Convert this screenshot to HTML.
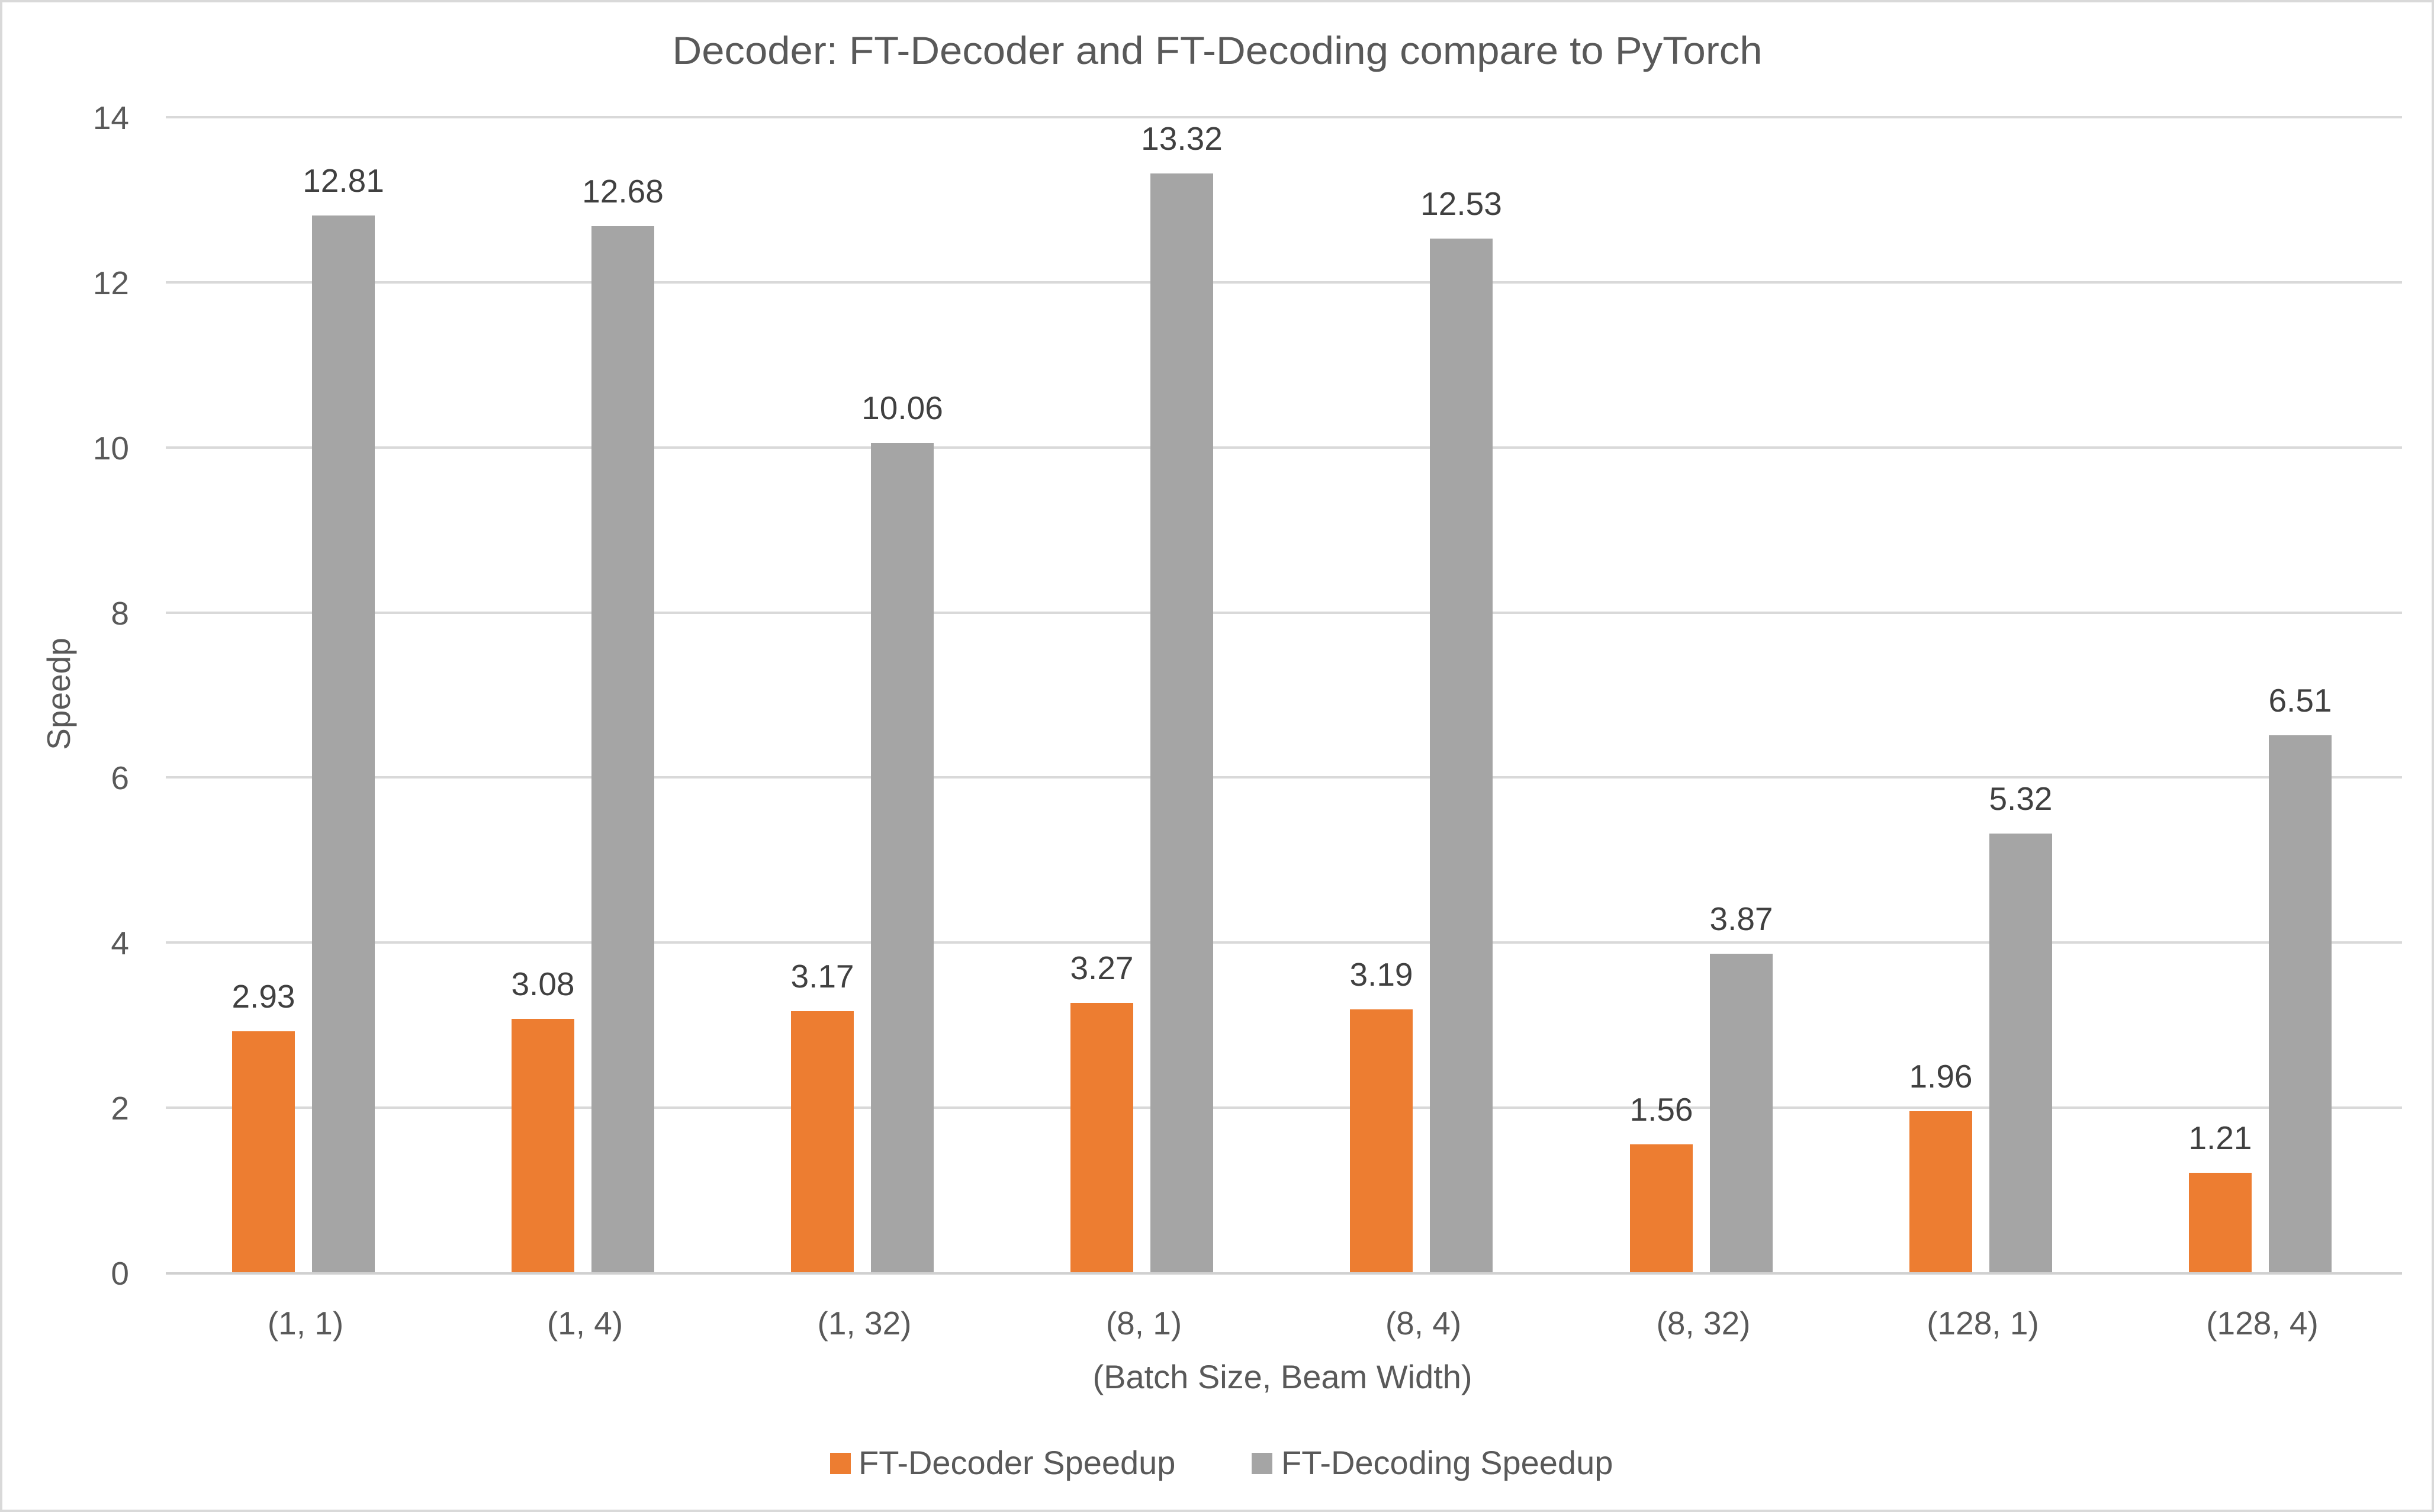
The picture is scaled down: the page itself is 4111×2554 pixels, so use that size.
<!DOCTYPE html>
<html><head><meta charset="utf-8"><style>html,body{margin:0;padding:0;background:#fff}svg{display:block}</style></head>
<body>
<svg width="4111" height="2554" viewBox="0 0 4111 2554" xmlns="http://www.w3.org/2000/svg" font-family="Liberation Sans, sans-serif" fill="#595959">
<rect x="2" y="2" width="4107" height="2550" fill="#fff" stroke="#d9d9d9" stroke-width="4"/>
<text x="2056" y="108" font-size="66" text-anchor="middle" textLength="1841" lengthAdjust="spacingAndGlyphs">Decoder: FT-Decoder and FT-Decoding compare to PyTorch</text>
<g stroke="#d9d9d9" stroke-width="4">
<line x1="280" x2="4057" y1="198" y2="198"/>
<line x1="280" x2="4057" y1="477" y2="477"/>
<line x1="280" x2="4057" y1="756" y2="756"/>
<line x1="280" x2="4057" y1="1035" y2="1035"/>
<line x1="280" x2="4057" y1="1313" y2="1313"/>
<line x1="280" x2="4057" y1="1592" y2="1592"/>
<line x1="280" x2="4057" y1="1871" y2="1871"/>
</g>
<g font-size="55" text-anchor="end">
<text x="218" y="218">14</text><text x="218" y="497">12</text><text x="218" y="776">10</text>
<text x="218" y="1055">8</text><text x="218" y="1333">6</text><text x="218" y="1612">4</text>
<text x="218" y="1891">2</text><text x="218" y="2170">0</text>
</g>
<text transform="translate(118,1172) rotate(-90)" font-size="55" text-anchor="middle">Speedp</text>
<g transform="translate(-4,0)">
<g fill="#ed7d31">
<rect x="396" y="1742" width="106" height="408"/>
<rect x="868" y="1721" width="106" height="429"/>
<rect x="1340" y="1708" width="106" height="442"/>
<rect x="1812" y="1694" width="106" height="456"/>
<rect x="2284" y="1705" width="106" height="445"/>
<rect x="2757" y="1933" width="106" height="217"/>
<rect x="3229" y="1877" width="106" height="273"/>
<rect x="3701" y="1981" width="106" height="169"/>
</g>
<g fill="#a5a5a5">
<rect x="531" y="364" width="106" height="1786"/>
<rect x="1003" y="382" width="106" height="1768"/>
<rect x="1475" y="748" width="106" height="1402"/>
<rect x="1947" y="293" width="106" height="1857"/>
<rect x="2419" y="403" width="106" height="1747"/>
<rect x="2892" y="1611" width="106" height="539"/>
<rect x="3364" y="1408" width="106" height="742"/>
<rect x="3836" y="1242" width="106" height="908"/>
</g>
<g font-size="55" text-anchor="middle" fill="#404040">
<text x="449" y="1702">2.93</text><text x="921" y="1681">3.08</text><text x="1393" y="1668">3.17</text><text x="1865" y="1654">3.27</text>
<text x="2337" y="1665">3.19</text><text x="2810" y="1893">1.56</text><text x="3282" y="1837">1.96</text><text x="3754" y="1941">1.21</text>
<text x="584" y="324">12.81</text><text x="1056" y="342">12.68</text><text x="1528" y="708">10.06</text><text x="2000" y="253">13.32</text>
<text x="2472" y="363">12.53</text><text x="2945" y="1571">3.87</text><text x="3417" y="1368">5.32</text><text x="3889" y="1202">6.51</text>
</g>
</g>
<g font-size="55" text-anchor="middle">
<text x="516" y="2254">(1, 1)</text><text x="988" y="2254">(1, 4)</text><text x="1460" y="2254">(1, 32)</text><text x="1932" y="2254">(8, 1)</text>
<text x="2404" y="2254">(8, 4)</text><text x="2877" y="2254">(8, 32)</text><text x="3349" y="2254">(128, 1)</text><text x="3821" y="2254">(128, 4)</text>
</g>
<line x1="280" x2="4057" y1="2151" y2="2151" stroke="#d0d0d0" stroke-width="4"/>
<text x="2166" y="2345" font-size="56" text-anchor="middle">(Batch Size, Beam Width)</text>
<rect x="1402" y="2454" width="35" height="36" fill="#ed7d31"/>
<text x="1450" y="2490" font-size="56">FT-Decoder Speedup</text>
<rect x="2114" y="2454" width="35" height="36" fill="#a5a5a5"/>
<text x="2164" y="2490" font-size="56">FT-Decoding Speedup</text>
</svg>
</body></html>
